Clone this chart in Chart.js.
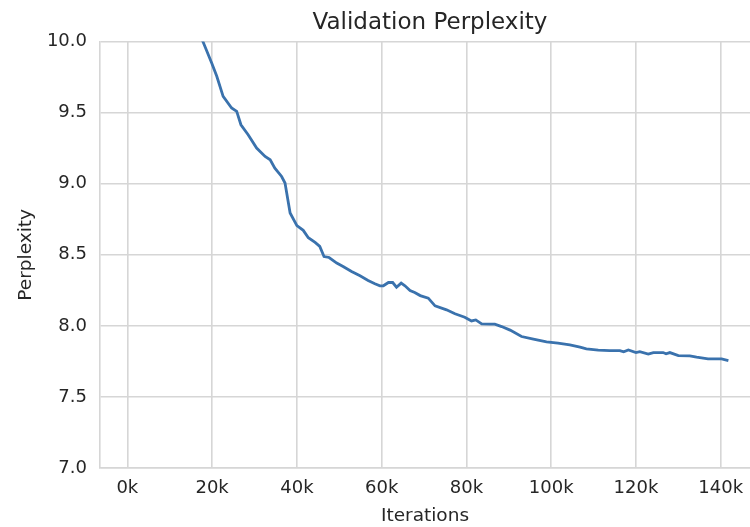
<!DOCTYPE html>
<html>
<head>
<meta charset="utf-8">
<title>Validation Perplexity</title>
<script src="https://cdn.jsdelivr.net/npm/chart.js@4.4.0/dist/chart.umd.min.js"></script>
<style>
  html, body { margin: 0; padding: 0; background: #fff; }
  #wrap { width: 750px; height: 527px; }
</style>
</head>
<body>
<div id="wrap"><canvas id="chart" width="750" height="527"></canvas></div>
<script>
// iterations in thousands
const iterations = [
  16.0, 17.9, 19.9, 21.1, 22.6, 24.6, 25.8, 26.8, 28.5, 30.5,
  32.5, 33.7, 34.8, 36.4, 37.2, 38.4, 40.0, 41.5, 42.7, 44.3,
  45.4, 46.4, 47.6, 49.4, 50.9, 52.9, 54.9, 56.8, 58.4, 59.6,
  60.4, 61.6, 62.6, 63.5, 64.6, 65.5, 66.7, 67.8, 69.1, 71.0,
  72.6, 75.3, 77.3, 79.6, 81.2, 82.2, 83.6, 85.5, 86.7, 88.3,
  90.3, 93.0, 95.8, 98.9, 101.6, 104.4, 106.8, 108.3, 111.1, 113.8,
  116.2, 117.1, 118.2, 120.0, 120.9, 122.9, 124.1, 126.4, 127.1, 128.0,
  130.0, 132.7, 134.3, 137.0, 140.2, 141.8
];
const perplexity = [
  10.13, 9.995, 9.85, 9.756, 9.615, 9.533, 9.509, 9.415, 9.345, 9.251,
  9.192, 9.169, 9.11, 9.051, 9.005, 8.794, 8.705, 8.672, 8.62, 8.587,
  8.559, 8.488, 8.481, 8.442, 8.418, 8.382, 8.352, 8.319, 8.296, 8.282,
  8.282, 8.305, 8.305, 8.272, 8.301, 8.282, 8.249, 8.235, 8.213, 8.195,
  8.141, 8.113, 8.085, 8.061, 8.035, 8.042, 8.014, 8.012, 8.012, 7.995,
  7.97, 7.925, 7.906, 7.887, 7.878, 7.866, 7.850, 7.838, 7.829, 7.826,
  7.826, 7.817, 7.831, 7.812, 7.819, 7.801, 7.812, 7.812, 7.803, 7.812,
  7.791, 7.789, 7.780, 7.768, 7.768, 7.756
];
const xTicks = [0, 20, 40, 60, 80, 100, 120, 140];
const yTicks = [7.0, 7.5, 8.0, 8.5, 9.0, 9.5, 10.0];

const textColor = '#262626';
const gridColor = '#d6d6d6';
const font = 'DejaVu Sans';

const points = iterations.map((x, i) => ({ x: x, y: perplexity[i] }));

// the original figure is cropped on the right (axes end ~10px past the edge),
// so center the title over that axes box rather than over the canvas
const centerTitle = {
  id: 'centerTitle',
  afterLayout(chart) {
    const t = chart.titleBlock;
    const mid = (chart.chartArea.left + chart.chartArea.right + 10) / 2;
    const half = (t.right - t.left) / 2;
    t.left = mid - half;
    t.right = mid + half;
  }
};

const ctx = document.getElementById('chart').getContext('2d');
new Chart(ctx, {
  type: 'line',
  data: {
    datasets: [{
      label: 'Validation Perplexity',
      data: points,
      borderColor: '#3a72ad',
      borderWidth: 2.8,
      pointRadius: 0,
      tension: 0,
      fill: false
    }]
  },
  plugins: [centerTitle],
  options: {
    responsive: false,
    animation: false,
    layout: { padding: 0 },
    plugins: {
      legend: { display: false },
      tooltip: { enabled: false },
      title: {
        display: true,
        text: 'Validation Perplexity',
        color: textColor,
        font: { family: font, size: 23, weight: 'normal' },
        padding: { top: 9, bottom: 5 }
      }
    },
    scales: {
      x: {
        type: 'linear',
        min: -6.45,
        max: 146.9,
        afterBuildTicks: scale => { scale.ticks = xTicks.map(v => ({ value: v })); },
        afterFit: scale => {
          scale.height = 59;
          scale.paddingLeft = 0;
          scale.paddingRight = 0;
        },
        grid: { color: gridColor, lineWidth: 1.6, drawTicks: false },
        border: { color: gridColor, width: 1.6 },
        ticks: {
          color: textColor,
          padding: 10,
          maxRotation: 0,
          font: { family: font, size: 18 },
          callback: v => v + 'k'
        },
        title: {
          display: true,
          text: 'Iterations',
          color: textColor,
          padding: { top: 0, bottom: 0 },
          font: { family: font, size: 18.5 }
        }
      },
      y: {
        min: 7,
        max: 10,
        afterBuildTicks: scale => { scale.ticks = yTicks.map(v => ({ value: v })); },
        afterFit: scale => { scale.width = 100; },
        grid: { color: gridColor, lineWidth: 1.6, drawTicks: false },
        border: { color: gridColor, width: 1.6 },
        ticks: {
          color: textColor,
          padding: 13,
          font: { family: font, size: 18 },
          callback: v => Number(v).toFixed(1)
        },
        title: {
          display: true,
          text: 'Perplexity',
          color: textColor,
          padding: { top: 15, bottom: 0 },
          font: { family: font, size: 18.5 }
        }
      }
    }
  }
});
</script>
</body>
</html>
